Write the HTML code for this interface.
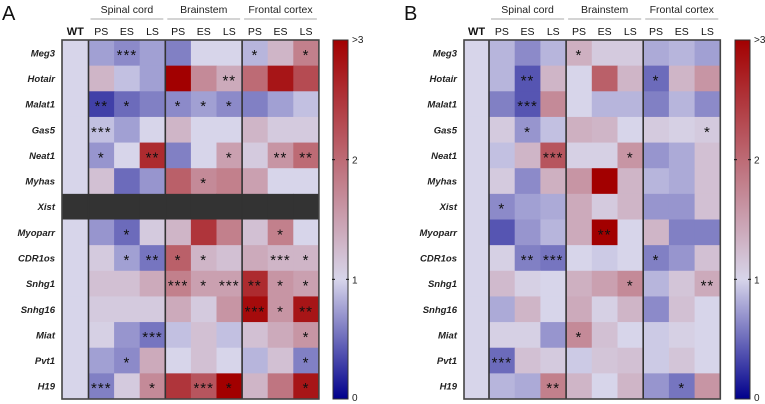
<!DOCTYPE html>
<html><head><meta charset="utf-8"><style>
html,body{margin:0;padding:0;background:#fff;}
svg{display:block;font-family:"Liberation Sans",sans-serif;}
</style></head><body>
<svg id="fig" width="765" height="404" viewBox="0 0 765 404" xmlns="http://www.w3.org/2000/svg"></svg>
<script>
const genes = ["Meg3","Hotair","Malat1","Gas5","Neat1","Myhas","Xist","Myoparr","CDR1os","Snhg1","Snhg16","Miat","Pvt1","H19"];
const regions = ["Spinal cord","Brainstem","Frontal cortex"];
const stages = ["PS","ES","LS"];
const cbTicks = [0,1,2,3];
const cbLabels = ["0","1","2",">3"];
// columns: WT, SC PS, SC ES, SC LS, BS PS, BS ES, BS LS, FC PS, FC ES, FC LS
const valuesA = [
[1,0.75,0.65,0.75,0.6,1.0,1.0,0.85,1.3,1.8],
[1,1.3,0.9,0.75,3,1.7,1.4,2.0,2.8,2.3],
[1,0.3,0.5,0.6,0.65,0.75,0.65,0.6,0.75,0.9],
[1,0.9,0.75,1.0,1.3,1.0,1.0,1.3,1.1,1.1],
[1,0.7,1.0,2.6,0.6,1.0,1.5,1.1,1.6,2.0],
[1,1.2,0.5,0.7,2.1,1.7,1.8,1.5,1.0,1.0],
[null,null,null,null,null,null,null,null,null,null],
[1,0.7,0.5,1.1,1.3,2.5,1.8,1.2,1.8,1.0],
[1,1.1,0.75,0.55,2.1,1.3,1.2,1.4,1.3,1.3],
[1,1.2,1.2,1.4,1.8,1.5,1.5,2.6,1.6,1.5],
[1,1.1,1.1,1.1,1.4,1.1,1.6,2.9,1.6,2.8],
[1,1.05,0.7,0.55,0.9,1.2,0.9,1.2,1.4,1.6],
[1,0.75,0.65,1.4,1.0,1.2,1.0,0.85,1.2,0.6],
[1,0.6,1.1,1.7,2.5,2.2,3,1.3,1.9,2.8]];
const starsA = [
["","","***","","","","","*","","*"],
["","","","","","","**","","",""],
["","**","*","","*","*","*","","",""],
["","***","","","","","","","",""],
["","*","","**","","","*","","**","**"],
["","","","","","*","","","",""],
["","","","","","","","","",""],
["","","*","","","","","","*",""],
["","","*","**","*","*","","","***","*"],
["","","","","***","*","***","**","*","*"],
["","","","","","","","***","*","**"],
["","","","***","","","","","","*"],
["","","*","","","","","","","*"],
["","***","","*","","***","*","","","*"]];
const valuesB = [
[1,0.85,0.65,0.85,1.35,1.1,1.1,0.8,0.85,0.75],
[1,0.85,0.4,1.3,1.0,2.1,1.3,0.5,1.3,1.6],
[1,0.6,0.4,1.7,1.0,0.85,0.85,0.6,0.85,0.65],
[1,1.1,0.7,0.9,1.35,1.3,1.0,1.1,1.05,1.1],
[1,0.9,1.3,2.2,1.05,1.05,1.6,0.7,0.8,1.2],
[1,1.1,0.65,1.35,1.6,3,1.3,0.85,0.8,1.2],
[1,0.65,0.75,0.8,1.4,1.1,1.3,0.7,0.7,1.2],
[1,0.4,0.7,0.85,1.4,3,1.0,1.3,0.6,0.6],
[1,1.05,0.6,0.55,1.0,0.95,1.0,0.6,0.7,1.2],
[1,1.25,1.05,1.0,1.35,1.5,1.7,0.85,1.15,1.4],
[1,0.8,1.3,1.0,1.4,1.05,1.3,0.65,1.2,1.0],
[1,1.05,1.05,0.7,1.7,1.2,1.0,0.95,1.05,1.0],
[1,0.5,1.2,1.1,0.95,1.15,1.2,0.95,1.15,1.0],
[1,0.85,0.8,1.8,1.3,1.0,1.3,0.7,0.55,1.6]];
const starsB = [
["","","","","*","","","","",""],
["","","**","","","","","*","",""],
["","","***","","","","","","",""],
["","","*","","","","","","","*"],
["","","","***","","","*","","",""],
["","","","","","","","","",""],
["","*","","","","","","","",""],
["","","","","","**","","","",""],
["","","**","***","","","","*","",""],
["","","","","","","*","","","**"],
["","","","","","","","","",""],
["","","","","*","","","","",""],
["","***","","","","","","","",""],
["","","","**","","","","","*",""]];

const NS="http://www.w3.org/2000/svg";
const svg=document.getElementById('fig');
function mk(tag,attrs,parent){const e=document.createElementNS(NS,tag);for(const k in attrs)e.setAttribute(k,attrs[k]);(parent||svg).appendChild(e);return e;}
const cLow=[0,0,140],cMid=[215,213,234],cHigh=[162,0,0];
function color(v){
  if(v===null)return "#333333";
  v=Math.max(0,Math.min(3,v));
  let a,b,t;
  if(v<=1){a=cLow;b=cMid;t=v;}else{a=cMid;b=cHigh;t=(v-1)/2;}
  const c=a.map((x,i)=>Math.round(x+(b[i]-x)*t));
  return `rgb(${c[0]},${c[1]},${c[2]})`;
}
const top0=40,bot0=399,rowH=(bot0-top0)/genes.length;
function yRow(i){return top0+i*rowH;}
function panel(letter,x0,colW,wtW,cbX,values,stars){
  const g=mk('g',{});
  
  
  const lt=mk('text',{x:x0-60,y:20,'font-size':20,fill:'#111'},g);lt.textContent=letter;
  
  
  function xCol(j){return j===0?x0:x0+wtW+(j-1)*colW;}
  function wCol(j){return j===0?wtW:colW;}
  for(let i=0;i<genes.length;i++){
    for(let j=0;j<10;j++){
      const r=mk('rect',{x:xCol(j),y:yRow(i),width:wCol(j)+0.5,height:rowH+0.5,fill:color(values[i][j])},g);
      
      
      const s=stars[i][j];
      if(s){const t=mk('text',{x:xCol(j)+wCol(j)/2,y:yRow(i)+rowH/2+7,'text-anchor':'middle','font-size':15,'letter-spacing':1,fill:'#111'},g);t.textContent=s;
        
        }
    }
    const gl=mk('text',{x:x0-7,y:yRow(i)+rowH/2+3.5,'text-anchor':'end','font-size':9.5,'font-weight':'bold','font-style':'italic',fill:'#222'},g);gl.textContent=genes[i];
    
    
  }
  [1,4,7].forEach(j=>{mk('line',{x1:xCol(j),x2:xCol(j),y1:top0,y2:bot0,stroke:'#333','stroke-width':1.6},g);});
  mk('rect',{x:x0,y:top0,width:xCol(10)-x0,height:bot0-top0,fill:'none',stroke:'#444','stroke-width':1.6},g);
  const wt=mk('text',{x:x0+wtW/2,y:35,'text-anchor':'middle','font-size':11,'font-weight':'bold',fill:'#111'},g);wt.textContent="WT";
  
  
  regions.forEach((rg,k)=>{
    const xs=xCol(1+3*k),xe=xCol(4+3*k);
    const rt=mk('text',{x:(xs+xe)/2,y:13,'text-anchor':'middle','font-size':10.5,fill:'#222'},g);rt.textContent=rg;
    
    
    mk('line',{x1:xs+2,x2:xe-2,y1:19,y2:19,stroke:'#bbb','stroke-width':1.2},g);
    stages.forEach((st,m)=>{const tt=mk('text',{x:xCol(1+3*k+m)+colW/2,y:35,'text-anchor':'middle','font-size':10.5,fill:'#111'},g);tt.textContent=st;
      
      });
  });
  const gid='grad'+letter;
  const defs=mk('defs',{},g);
  const lg=mk('linearGradient',{id:gid,x1:0,y1:1,x2:0,y2:0},defs);
  for(let k=0;k<=30;k++){const v=k/10;mk('stop',{offset:(v/3),'stop-color':color(v)},lg);}
  const cbW=15;
  const cb=mk('rect',{x:cbX,y:top0,width:cbW,height:bot0-top0,fill:`url(#${gid})`,stroke:'#333','stroke-width':1},g);
  
  
  function yCb(v){return bot0-(v/3)*(bot0-top0);}
  cbTicks.forEach((v,k)=>{
    const y=yCb(v);
    if(v===1||v===2){mk('line',{x1:cbX-1,x2:cbX+2,y1:y,y2:y,stroke:'#111'},g);mk('line',{x1:cbX+cbW-2,x2:cbX+cbW+1,y1:y,y2:y,stroke:'#111'},g);}
    const t=mk('text',{x:cbX+cbW+4,y:v===3?y+3:(v===0?y+2:y+4),'font-size':10,fill:'#222'},g);t.textContent=cbLabels[k];
    
    
  });
}
panel("A",62,25.6,26.5,333,valuesA,starsA);
panel("B",464,25.7,25,735,valuesB,starsB);
</script>
</body></html>
